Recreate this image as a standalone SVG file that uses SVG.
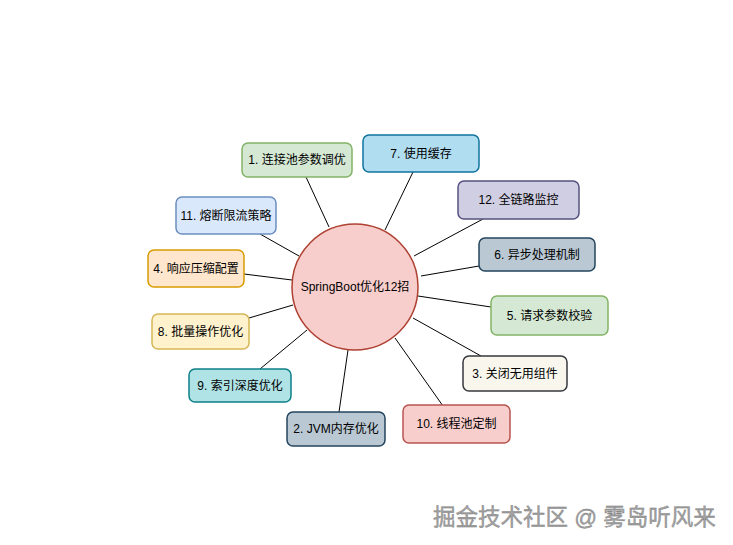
<svg xmlns="http://www.w3.org/2000/svg" width="733" height="545" viewBox="0 0 733 545">
<style>
text{font-family:"Liberation Sans","Noto Sans CJK SC",sans-serif;font-size:12px;fill:#000;text-anchor:middle;dominant-baseline:central}
.b{stroke-width:1.5}
.c{stroke:#000;stroke-width:1;fill:none}
.wm{font-size:22.5px;fill:#a3a3a3;text-anchor:start;dominant-baseline:alphabetic;stroke:#777;stroke-width:0.35}
</style>
<rect width="733" height="545" fill="#fff"/>
<g id="connectors">
<line class="c" x1="306" y1="177" x2="329" y2="227"/>
<line class="c" x1="260" y1="234" x2="299" y2="256"/>
<line class="c" x1="244" y1="274" x2="292" y2="280"/>
<line class="c" x1="413" y1="172" x2="385" y2="230"/>
<line class="c" x1="483" y1="219" x2="414" y2="256"/>
<line class="c" x1="479" y1="266" x2="421" y2="276"/>
<line class="c" x1="249" y1="318" x2="293" y2="305"/>
<line class="c" x1="260" y1="369" x2="307" y2="330"/>
<line class="c" x1="339" y1="412" x2="348" y2="350"/>
<line class="c" x1="491" y1="307" x2="418" y2="296"/>
<line class="c" x1="481" y1="356" x2="413" y2="318"/>
<line class="c" x1="443" y1="406" x2="395" y2="338"/>
</g>
<g id="center"><circle cx="355" cy="287" r="63" fill="#f8cecc" stroke="#ae4132" stroke-width="1.5"/><text x="355" y="287">SpringBoot优化12招</text></g>
<g id="n1"><rect class="b" x="242" y="143" width="110" height="34" rx="6" fill="#d5e8d4" stroke="#82b366"/><text x="297" y="160">1. 连接池参数调优</text></g>
<g id="n7"><rect class="b" x="363" y="135" width="116" height="37" rx="6" fill="#b1ddf0" stroke="#10739e"/><text x="421" y="153.5">7. 使用缓存</text></g>
<g id="n12"><rect class="b" x="458" y="181" width="121" height="38" rx="6" fill="#d0cee2" stroke="#56517e"/><text x="518.5" y="200">12. 全链路监控</text></g>
<g id="n6"><rect class="b" x="479" y="238" width="116" height="33" rx="6" fill="#bac8d3" stroke="#23445d"/><text x="537" y="254.5">6. 异步处理机制</text></g>
<g id="n11"><rect class="b" x="176" y="197" width="100" height="37" rx="6" fill="#dae8fc" stroke="#6c8ebf"/><text x="226" y="215.5">11. 熔断限流策略</text></g>
<g id="n4"><rect class="b" x="148" y="250" width="96" height="37" rx="6" fill="#ffe6cc" stroke="#d79b00"/><text x="196" y="268.5">4. 响应压缩配置</text></g>
<g id="n8"><rect class="b" x="152" y="314" width="97" height="35" rx="6" fill="#fff2cc" stroke="#d6b656"/><text x="200.5" y="331.5">8. 批量操作优化</text></g>
<g id="n9"><rect class="b" x="189" y="369" width="102" height="33" rx="6" fill="#b0e3e6" stroke="#0e8088"/><text x="240" y="385.5">9. 索引深度优化</text></g>
<g id="n2"><rect class="b" x="287" y="412" width="98" height="34" rx="6" fill="#bac8d3" stroke="#23445d"/><text x="336" y="429">2. JVM内存优化</text></g>
<g id="n5"><rect class="b" x="491" y="296" width="117" height="39" rx="6" fill="#d5e8d4" stroke="#82b366"/><text x="549.5" y="315.5">5. 请求参数校验</text></g>
<g id="n3"><rect class="b" x="463" y="356" width="104" height="35" rx="6" fill="#f9f7ed" stroke="#36393d"/><text x="515" y="373.5">3. 关闭无用组件</text></g>
<g id="n10"><rect class="b" x="403" y="405" width="107" height="38" rx="6" fill="#f8cecc" stroke="#b85450"/><text x="456.5" y="424">10. 线程池定制</text></g>
<text class="wm" x="433" y="525">掘金技术社区 @ 雾岛听风来</text>
</svg>
